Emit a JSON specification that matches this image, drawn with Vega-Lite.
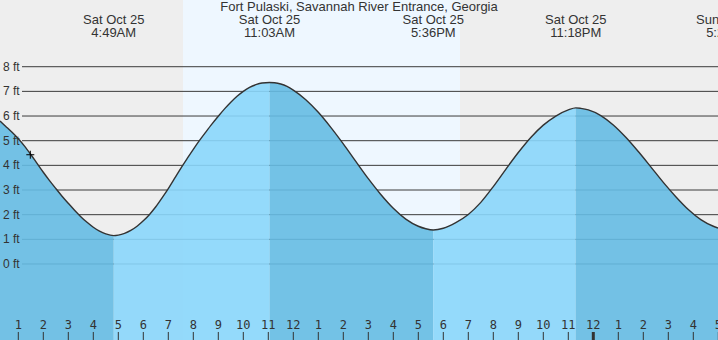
{
  "$schema": "https://vega.github.io/schema/vega-lite/v6.json",
  "width": 718,
  "height": 340,
  "padding": 0,
  "autosize": {"type": "none"},
  "background": "#eeeeee",
  "config": {"view": {"stroke": null}, "axis": {"disable": true}},
  "datasets": {
    "tide": [
      {"seg": "A", "dir": "fall", "h": 0.268, "ft": 5.8},
      {"seg": "A", "dir": "fall", "h": 0.5, "ft": 5.58},
      {"seg": "A", "dir": "fall", "h": 0.75, "ft": 5.34},
      {"seg": "A", "dir": "fall", "h": 1.0, "ft": 5.08},
      {"seg": "A", "dir": "fall", "h": 1.25, "ft": 4.78},
      {"seg": "A", "dir": "fall", "h": 1.5, "ft": 4.44},
      {"seg": "A", "dir": "fall", "h": 1.75, "ft": 4.08},
      {"seg": "A", "dir": "fall", "h": 2.0, "ft": 3.72},
      {"seg": "A", "dir": "fall", "h": 2.25, "ft": 3.38},
      {"seg": "A", "dir": "fall", "h": 2.5, "ft": 3.06},
      {"seg": "A", "dir": "fall", "h": 2.75, "ft": 2.75},
      {"seg": "A", "dir": "fall", "h": 3.0, "ft": 2.46},
      {"seg": "A", "dir": "fall", "h": 3.25, "ft": 2.18},
      {"seg": "A", "dir": "fall", "h": 3.5, "ft": 1.92},
      {"seg": "A", "dir": "fall", "h": 3.75, "ft": 1.69},
      {"seg": "A", "dir": "fall", "h": 4.0, "ft": 1.49},
      {"seg": "A", "dir": "fall", "h": 4.25, "ft": 1.33},
      {"seg": "A", "dir": "fall", "h": 4.5, "ft": 1.22},
      {"seg": "A", "dir": "fall", "h": 4.817, "ft": 1.15},
      {"seg": "B", "dir": "rise", "h": 4.817, "ft": 1.15},
      {"seg": "B", "dir": "rise", "h": 5.0, "ft": 1.17},
      {"seg": "B", "dir": "rise", "h": 5.25, "ft": 1.24},
      {"seg": "B", "dir": "rise", "h": 5.5, "ft": 1.36},
      {"seg": "B", "dir": "rise", "h": 5.75, "ft": 1.53},
      {"seg": "B", "dir": "rise", "h": 6.0, "ft": 1.75},
      {"seg": "B", "dir": "rise", "h": 6.25, "ft": 2.01},
      {"seg": "B", "dir": "rise", "h": 6.5, "ft": 2.32},
      {"seg": "B", "dir": "rise", "h": 6.75, "ft": 2.68},
      {"seg": "B", "dir": "rise", "h": 7.0, "ft": 3.06},
      {"seg": "B", "dir": "rise", "h": 7.25, "ft": 3.47},
      {"seg": "B", "dir": "rise", "h": 7.5, "ft": 3.88},
      {"seg": "B", "dir": "rise", "h": 7.75, "ft": 4.27},
      {"seg": "B", "dir": "rise", "h": 8.0, "ft": 4.65},
      {"seg": "B", "dir": "rise", "h": 8.25, "ft": 5.01},
      {"seg": "B", "dir": "rise", "h": 8.5, "ft": 5.35},
      {"seg": "B", "dir": "rise", "h": 8.75, "ft": 5.68},
      {"seg": "B", "dir": "rise", "h": 9.0, "ft": 5.99},
      {"seg": "B", "dir": "rise", "h": 9.25, "ft": 6.29},
      {"seg": "B", "dir": "rise", "h": 9.5, "ft": 6.56},
      {"seg": "B", "dir": "rise", "h": 9.75, "ft": 6.8},
      {"seg": "B", "dir": "rise", "h": 10.0, "ft": 7.0},
      {"seg": "B", "dir": "rise", "h": 10.25, "ft": 7.16},
      {"seg": "B", "dir": "rise", "h": 10.5, "ft": 7.27},
      {"seg": "B", "dir": "rise", "h": 10.75, "ft": 7.34},
      {"seg": "B", "dir": "rise", "h": 11.05, "ft": 7.36},
      {"seg": "C", "dir": "fall", "h": 11.05, "ft": 7.36},
      {"seg": "C", "dir": "fall", "h": 11.25, "ft": 7.35},
      {"seg": "C", "dir": "fall", "h": 11.5, "ft": 7.3},
      {"seg": "C", "dir": "fall", "h": 11.75, "ft": 7.2},
      {"seg": "C", "dir": "fall", "h": 12.0, "ft": 7.05},
      {"seg": "C", "dir": "fall", "h": 12.5, "ft": 6.66},
      {"seg": "C", "dir": "fall", "h": 13.0, "ft": 6.15},
      {"seg": "C", "dir": "fall", "h": 13.5, "ft": 5.54},
      {"seg": "C", "dir": "fall", "h": 14.0, "ft": 4.87},
      {"seg": "C", "dir": "fall", "h": 14.5, "ft": 4.16},
      {"seg": "C", "dir": "fall", "h": 15.0, "ft": 3.46},
      {"seg": "C", "dir": "fall", "h": 15.5, "ft": 2.82},
      {"seg": "C", "dir": "fall", "h": 16.0, "ft": 2.26},
      {"seg": "C", "dir": "fall", "h": 16.5, "ft": 1.82},
      {"seg": "C", "dir": "fall", "h": 17.0, "ft": 1.53},
      {"seg": "C", "dir": "fall", "h": 17.3, "ft": 1.43},
      {"seg": "C", "dir": "fall", "h": 17.6, "ft": 1.38},
      {"seg": "D", "dir": "rise", "h": 17.6, "ft": 1.38},
      {"seg": "D", "dir": "rise", "h": 18.0, "ft": 1.45},
      {"seg": "D", "dir": "rise", "h": 18.5, "ft": 1.68},
      {"seg": "D", "dir": "rise", "h": 19.0, "ft": 2.01},
      {"seg": "D", "dir": "rise", "h": 19.5, "ft": 2.5},
      {"seg": "D", "dir": "rise", "h": 20.0, "ft": 3.14},
      {"seg": "D", "dir": "rise", "h": 20.5, "ft": 3.84},
      {"seg": "D", "dir": "rise", "h": 21.0, "ft": 4.52},
      {"seg": "D", "dir": "rise", "h": 21.5, "ft": 5.13},
      {"seg": "D", "dir": "rise", "h": 22.0, "ft": 5.63},
      {"seg": "D", "dir": "rise", "h": 22.5, "ft": 6.0},
      {"seg": "D", "dir": "rise", "h": 23.0, "ft": 6.25},
      {"seg": "D", "dir": "rise", "h": 23.3, "ft": 6.33},
      {"seg": "E", "dir": "fall", "h": 23.3, "ft": 6.33},
      {"seg": "E", "dir": "fall", "h": 23.5, "ft": 6.31},
      {"seg": "E", "dir": "fall", "h": 23.8, "ft": 6.25},
      {"seg": "E", "dir": "fall", "h": 24.3, "ft": 6.02},
      {"seg": "E", "dir": "fall", "h": 24.8, "ft": 5.64},
      {"seg": "E", "dir": "fall", "h": 25.3, "ft": 5.14},
      {"seg": "E", "dir": "fall", "h": 25.8, "ft": 4.56},
      {"seg": "E", "dir": "fall", "h": 26.3, "ft": 3.94},
      {"seg": "E", "dir": "fall", "h": 26.8, "ft": 3.31},
      {"seg": "E", "dir": "fall", "h": 27.3, "ft": 2.73},
      {"seg": "E", "dir": "fall", "h": 27.8, "ft": 2.21},
      {"seg": "E", "dir": "fall", "h": 28.3, "ft": 1.8},
      {"seg": "E", "dir": "fall", "h": 28.8, "ft": 1.53},
      {"seg": "E", "dir": "fall", "h": 28.988, "ft": 1.46}
    ],
    "grid": [
      {"ft": 0, "label": "0 ft"}, {"ft": 1, "label": "1 ft"}, {"ft": 2, "label": "2 ft"},
      {"ft": 3, "label": "3 ft"}, {"ft": 4, "label": "4 ft"}, {"ft": 5, "label": "5 ft"},
      {"ft": 6, "label": "6 ft"}, {"ft": 7, "label": "7 ft"}, {"ft": 8, "label": "8 ft"}
    ],
    "hours": [
      {"h": 1, "label": "1"}, {"h": 2, "label": "2"}, {"h": 3, "label": "3"}, {"h": 4, "label": "4"},
      {"h": 5, "label": "5"}, {"h": 6, "label": "6"}, {"h": 7, "label": "7"}, {"h": 8, "label": "8"},
      {"h": 9, "label": "9"}, {"h": 10, "label": "10"}, {"h": 11, "label": "11"}, {"h": 12, "label": "12"},
      {"h": 13, "label": "1"}, {"h": 14, "label": "2"}, {"h": 15, "label": "3"}, {"h": 16, "label": "4"},
      {"h": 17, "label": "5"}, {"h": 18, "label": "6"}, {"h": 19, "label": "7"}, {"h": 20, "label": "8"},
      {"h": 21, "label": "9"}, {"h": 22, "label": "10"}, {"h": 23, "label": "11"}, {"h": 24, "label": "12"},
      {"h": 25, "label": "1"}, {"h": 26, "label": "2"}, {"h": 27, "label": "3"}, {"h": 28, "label": "4"},
      {"h": 29, "label": "5"}
    ],
    "extremes": [
      {"h": 4.817, "label": "Sat Oct 25\n4:49AM"},
      {"h": 11.05, "label": "Sat Oct 25\n11:03AM"},
      {"h": 17.6, "label": "Sat Oct 25\n5:36PM"},
      {"h": 23.3, "label": "Sat Oct 25\n11:18PM"},
      {"h": 29.41, "label": "Sun Oct 26\n5:25AM"}
    ],
    "day": [{"sunrise": 7.59, "sunset": 18.67}],
    "now": [{"h": 1.48, "ft": 4.43}],
    "title": [{"h": 14.628, "label": "Fort Pulaski, Savannah River Entrance, Georgia"}]
  },
  "layer": [
    {
      "data": {"name": "day"},
      "mark": {"type": "rect", "color": "#eef7ff"},
      "encoding": {
        "x": {"field": "sunrise", "type": "quantitative", "scale": {"domain": [0.268, 28.988], "nice": false, "zero": false}},
        "x2": {"field": "sunset"},
        "y": {"datum": -3.082, "type": "quantitative", "scale": {"domain": [-3.082, 10.705], "nice": false, "zero": false}},
        "y2": {"datum": 10.705}
      }
    },
    {
      "data": {"name": "grid"},
      "mark": {"type": "rule", "color": "#3a3a3a", "strokeWidth": 1},
      "encoding": {
        "y": {"field": "ft", "type": "quantitative"},
        "x": {"datum": 1.148, "type": "quantitative"},
        "x2": {"datum": 28.988}
      }
    },
    {
      "data": {"name": "tide"},
      "mark": {"type": "area", "interpolate": "monotone", "opacity": 0.9},
      "encoding": {
        "x": {"field": "h", "type": "quantitative"},
        "y": {"field": "ft", "type": "quantitative"},
        "y2": {"datum": -3.082},
        "detail": {"field": "seg"},
        "color": {"field": "dir", "type": "nominal", "scale": {"domain": ["fall", "rise"], "range": ["#65bbe3", "#8ad6fb"]}, "legend": null}
      }
    },
    {
      "data": {"name": "tide"},
      "mark": {"type": "line", "interpolate": "monotone", "color": "#333333", "strokeWidth": 1.4},
      "encoding": {
        "x": {"field": "h", "type": "quantitative"},
        "y": {"field": "ft", "type": "quantitative"},
        "order": {"field": "h"}
      }
    },
    {
      "data": {"name": "grid"},
      "mark": {"type": "text", "align": "left", "baseline": "middle", "font": "Liberation Sans", "fontSize": 12, "color": "#333333"},
      "encoding": {
        "y": {"field": "ft", "type": "quantitative"},
        "x": {"datum": 0.388, "type": "quantitative"},
        "text": {"field": "label"}
      }
    },
    {
      "data": {"name": "extremes"},
      "mark": {"type": "text", "align": "center", "baseline": "alphabetic", "font": "Liberation Sans", "fontSize": 13, "lineBreak": "\n", "lineHeight": 13.3, "color": "#333333"},
      "encoding": {
        "x": {"field": "h", "type": "quantitative"},
        "y": {"datum": 9.732, "type": "quantitative"},
        "text": {"field": "label"}
      }
    },
    {
      "data": {"name": "title"},
      "mark": {"type": "text", "align": "center", "baseline": "alphabetic", "font": "Liberation Sans", "fontSize": 13, "color": "#333333"},
      "encoding": {
        "x": {"field": "h", "type": "quantitative"},
        "y": {"datum": 10.26, "type": "quantitative"},
        "text": {"field": "label"}
      }
    },
    {
      "data": {"name": "hours"},
      "mark": {"type": "rule", "color": "#333333"},
      "encoding": {
        "x": {"field": "h", "type": "quantitative"},
        "y": {"datum": -2.757, "type": "quantitative"},
        "y2": {"datum": -3.082},
        "strokeWidth": {"condition": {"test": "datum.h === 24", "value": 3}, "value": 1}
      }
    },
    {
      "data": {"name": "hours"},
      "mark": {"type": "text", "align": "center", "baseline": "middle", "font": "DejaVu Sans Mono", "fontSize": 12, "color": "#333333"},
      "encoding": {
        "x": {"field": "h", "type": "quantitative"},
        "y": {"datum": -2.474, "type": "quantitative"},
        "text": {"field": "label"}
      }
    },
    {
      "data": {"name": "now"},
      "mark": {"type": "point", "shape": "M-1,0L1,0M0,-1L0,1", "filled": false, "color": "#000000", "strokeWidth": 1, "size": 64, "opacity": 1},
      "encoding": {
        "x": {"field": "h", "type": "quantitative"},
        "y": {"field": "ft", "type": "quantitative"}
      }
    }
  ]
}
